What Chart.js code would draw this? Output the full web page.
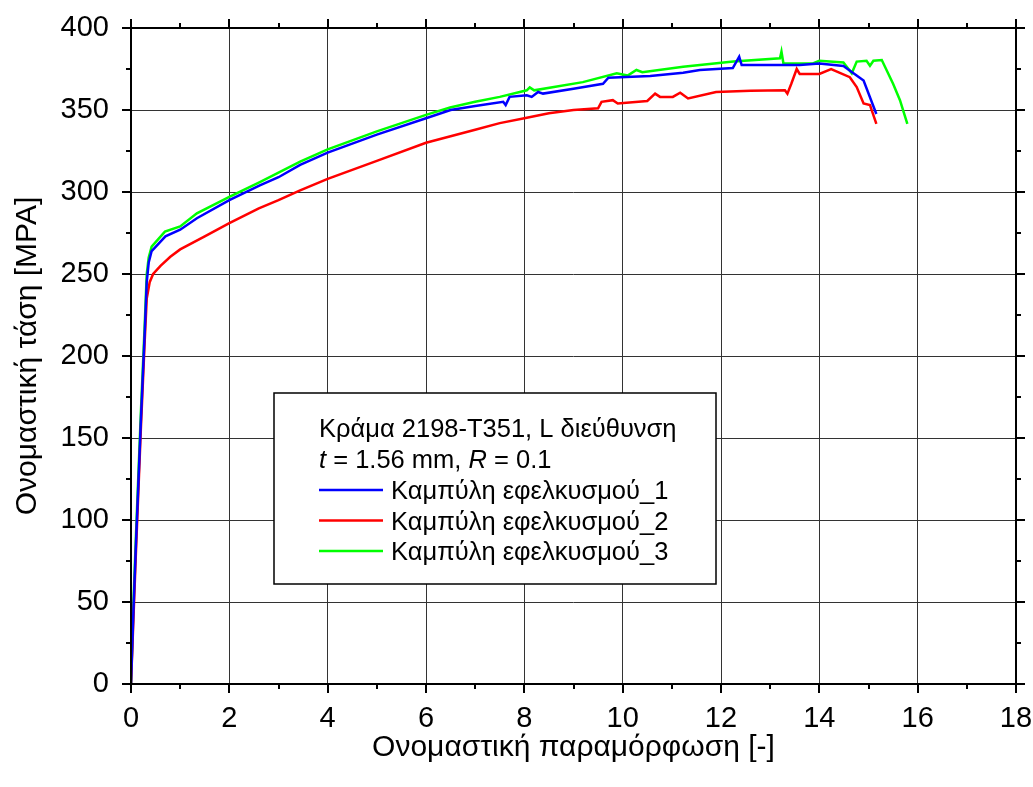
<!DOCTYPE html>
<html>
<head>
<meta charset="utf-8">
<script src="https://cdn.jsdelivr.net/npm/chart.js@4"></script>
<style>
  body { margin: 0; background: #fff; }
  canvas { display: block; }
</style>
</head>
<body>
<canvas id="chartStress" width="1033" height="787"></canvas>
<script>
// Καμπύλη εφελκυσμού_1 (blue)
let strain1 = [0, 0.05, 0.1, 0.2, 0.28, 0.32, 0.36, 0.42, 0.7, 1, 1.34, 2, 2.62, 3, 3.44, 4, 5, 6, 6.5, 7, 7.57, 7.62, 7.7, 8.05, 8.15, 8.28, 8.38, 9, 9.6, 9.71, 10.56, 11.23, 11.57, 12.24, 12.37, 12.42, 13.6, 14, 14.49, 14.9, 15.16];
let stress1 = [0, 45, 85, 160, 215, 245, 257, 264, 273, 277, 284, 295, 304, 309, 316.5, 324, 335, 345, 350, 352.5, 355, 353, 358, 359, 358, 361, 360, 363, 366, 369.7, 370.7, 372.7, 374.4, 375.6, 382.5, 377.4, 377.4, 378.4, 376.8, 368, 347.6];

// Καμπύλη εφελκυσμού_2 (red)
let strain2 = [0, 0.05, 0.1, 0.2, 0.28, 0.32, 0.38, 0.45, 0.6, 0.8, 1, 1.5, 2, 2.6, 3, 3.44, 4, 5, 6, 6.5, 7, 7.5, 8, 8.5, 9, 9.5, 9.57, 9.8, 9.9, 10.5, 10.66, 10.76, 11.02, 11.17, 11.33, 11.9, 12.6, 13.3, 13.35, 13.43, 13.54, 13.6, 14, 14.24, 14.62, 14.76, 14.9, 15.03, 15.16];
let stress2 = [0, 40, 80, 155, 210, 235, 245, 250, 255, 260.5, 265, 273, 281, 290, 295, 301, 308, 319, 330, 334, 338, 342, 345, 348, 350, 351, 355, 356, 354, 355.5, 360, 358, 358, 360.5, 357, 361, 361.8, 362, 360, 366, 375, 372, 372, 375, 370, 364, 354, 353, 341.5];

// Καμπύλη εφελκυσμού_3 (green)
let strain3 = [0, 0.05, 0.1, 0.2, 0.28, 0.32, 0.36, 0.42, 0.69, 1, 1.34, 2, 2.62, 3.44, 4, 5, 6, 6.49, 7, 7.5, 8.05, 8.11, 8.2, 9.19, 9.88, 10.1, 10.28, 10.4, 11.23, 12.25, 13.2, 13.23, 13.27, 13.87, 14, 14.49, 14.66, 14.76, 14.96, 15.03, 15.1, 15.27, 15.5, 15.64, 15.79];
let stress3 = [0, 50, 90, 165, 220, 250, 260, 266.7, 275.8, 279, 287, 297, 306, 318.5, 326, 337, 347, 351.5, 355, 358, 362, 363.8, 362, 367, 372.4, 371, 374.4, 373, 376.4, 379.5, 381.5, 385.6, 378.4, 378.4, 380, 379, 372.4, 379.5, 380, 377, 380, 380.5, 366, 356, 341.5];

let seriesLabels = ["Καμπύλη εφελκυσμού_1", "Καμπύλη εφελκυσμού_2", "Καμπύλη εφελκυσμού_3"];
let seriesColors = ["#0000FF", "#FF0000", "#00FF00"];
let xTicks = [0, 2, 4, 6, 8, 10, 12, 14, 16, 18];
let yTicks = [0, 50, 100, 150, 200, 250, 300, 350, 400];

const FONT = "'Liberation Sans', Arial, sans-serif";

function toPoints(xs, ys) {
    return xs.map((x, i) => ({x: x, y: ys[i]}));
}

// frame, ticks on all four sides, and the boxed legend
const framePlugin = {
    id: 'frame',
    afterDraw(chart) {
        const ctx = chart.ctx;
        const a = chart.chartArea;
        const sx = chart.scales.x;
        const sy = chart.scales.y;
        ctx.save();
        ctx.strokeStyle = '#000';
        ctx.lineWidth = 2;
        ctx.strokeRect(a.left, a.top, a.right - a.left, a.bottom - a.top);

        ctx.beginPath();
        for (let v = 0; v <= 18; v += 1) {
            let p = Math.round(sx.getPixelForValue(v));
            let len = v % 2 === 0 ? 9 : 5;
            ctx.moveTo(p, a.bottom); ctx.lineTo(p, a.bottom + len);
            ctx.moveTo(p, a.top); ctx.lineTo(p, a.top - len);
        }
        for (let v = 0; v <= 400; v += 25) {
            let p = Math.round(sy.getPixelForValue(v));
            let len = v % 50 === 0 ? 9 : 5;
            ctx.moveTo(a.left, p); ctx.lineTo(a.left - len, p);
            ctx.moveTo(a.right, p); ctx.lineTo(a.right + len, p);
        }
        ctx.stroke();

        // legend box
        const bx = 274, by = 393, bw = 442, bh = 191;
        ctx.fillStyle = '#fff';
        ctx.fillRect(bx, by, bw, bh);
        ctx.lineWidth = 1.5;
        ctx.strokeRect(bx, by, bw, bh);

        ctx.fillStyle = '#000';
        ctx.textBaseline = 'alphabetic';
        ctx.textAlign = 'left';
        const fs = 25.5;
        ctx.font = fs + 'px ' + FONT;
        ctx.fillText('Κράμα 2198-T351, L διεύθυνση', 319, 437);

        let x = 319;
        const parts = [['t', true], [' = 1.56 mm, ', false], ['R', true], [' = 0.1', false]];
        parts.forEach(([txt, it]) => {
            ctx.font = (it ? 'italic ' : '') + fs + 'px ' + FONT;
            ctx.fillText(txt, x, 468);
            x += ctx.measureText(txt).width;
        });

        ctx.font = fs + 'px ' + FONT;
        chart.data.datasets.forEach((ds, i) => {
            let base = 499 + i * 30.5;
            ctx.strokeStyle = ds.borderColor;
            ctx.lineWidth = 2.5;
            ctx.beginPath();
            ctx.moveTo(319, base - 9);
            ctx.lineTo(383, base - 9);
            ctx.stroke();
            ctx.fillText(ds.label, 391, base);
        });
        ctx.restore();
    }
};

new Chart("chartStress", {
    type: "scatter",
    data: {
        datasets: [
            {label: seriesLabels[0], data: toPoints(strain1, stress1), borderColor: seriesColors[0]},
            {label: seriesLabels[1], data: toPoints(strain2, stress2), borderColor: seriesColors[1]},
            {label: seriesLabels[2], data: toPoints(strain3, stress3), borderColor: seriesColors[2]}
        ].map(d => Object.assign(d, {
            showLine: true, pointRadius: 0, borderWidth: 2.5, tension: 0, fill: false
        }))
    },
    options: {
        responsive: false,
        animation: false,
        devicePixelRatio: 1,
        layout: {padding: {top: 28, right: 17, left: 0, bottom: 0}},
        plugins: {
            legend: {display: false},
            tooltip: {enabled: false}
        },
        scales: {
            x: {
                type: 'linear',
                min: 0, max: 18,
                afterFit(scale) {
                    scale.height = 103;
                    scale.paddingLeft = 0;
                    scale.paddingRight = 0;
                },
                afterBuildTicks(scale) { scale.ticks = xTicks.map(v => ({value: v})); },
                ticks: {font: {family: FONT, size: 29}, color: '#000', padding: 18, maxRotation: 0},
                grid: {color: '#333', lineWidth: 1, drawTicks: false},
                border: {display: false},
                title: {
                    display: true,
                    text: 'Ονομαστική παραμόρφωση [-]',
                    color: '#000',
                    font: {family: FONT, size: 30},
                    padding: {top: 0, bottom: 21}
                }
            },
            y: {
                type: 'linear',
                min: 0, max: 400,
                afterFit(scale) {
                    scale.width = 131;
                    scale.paddingTop = 0;
                    scale.paddingBottom = 0;
                },
                afterBuildTicks(scale) { scale.ticks = yTicks.map(v => ({value: v})); },
                ticks: {font: {family: FONT, size: 29}, color: '#000', padding: 22},
                grid: {color: '#333', lineWidth: 1, drawTicks: false},
                border: {display: false},
                title: {
                    display: true,
                    text: 'Ονομαστική τάση [MPA]',
                    color: '#000',
                    font: {family: FONT, size: 30},
                    padding: {top: 10, bottom: 0}
                }
            }
        }
    },
    plugins: [framePlugin]
});
</script>
</body>
</html>
